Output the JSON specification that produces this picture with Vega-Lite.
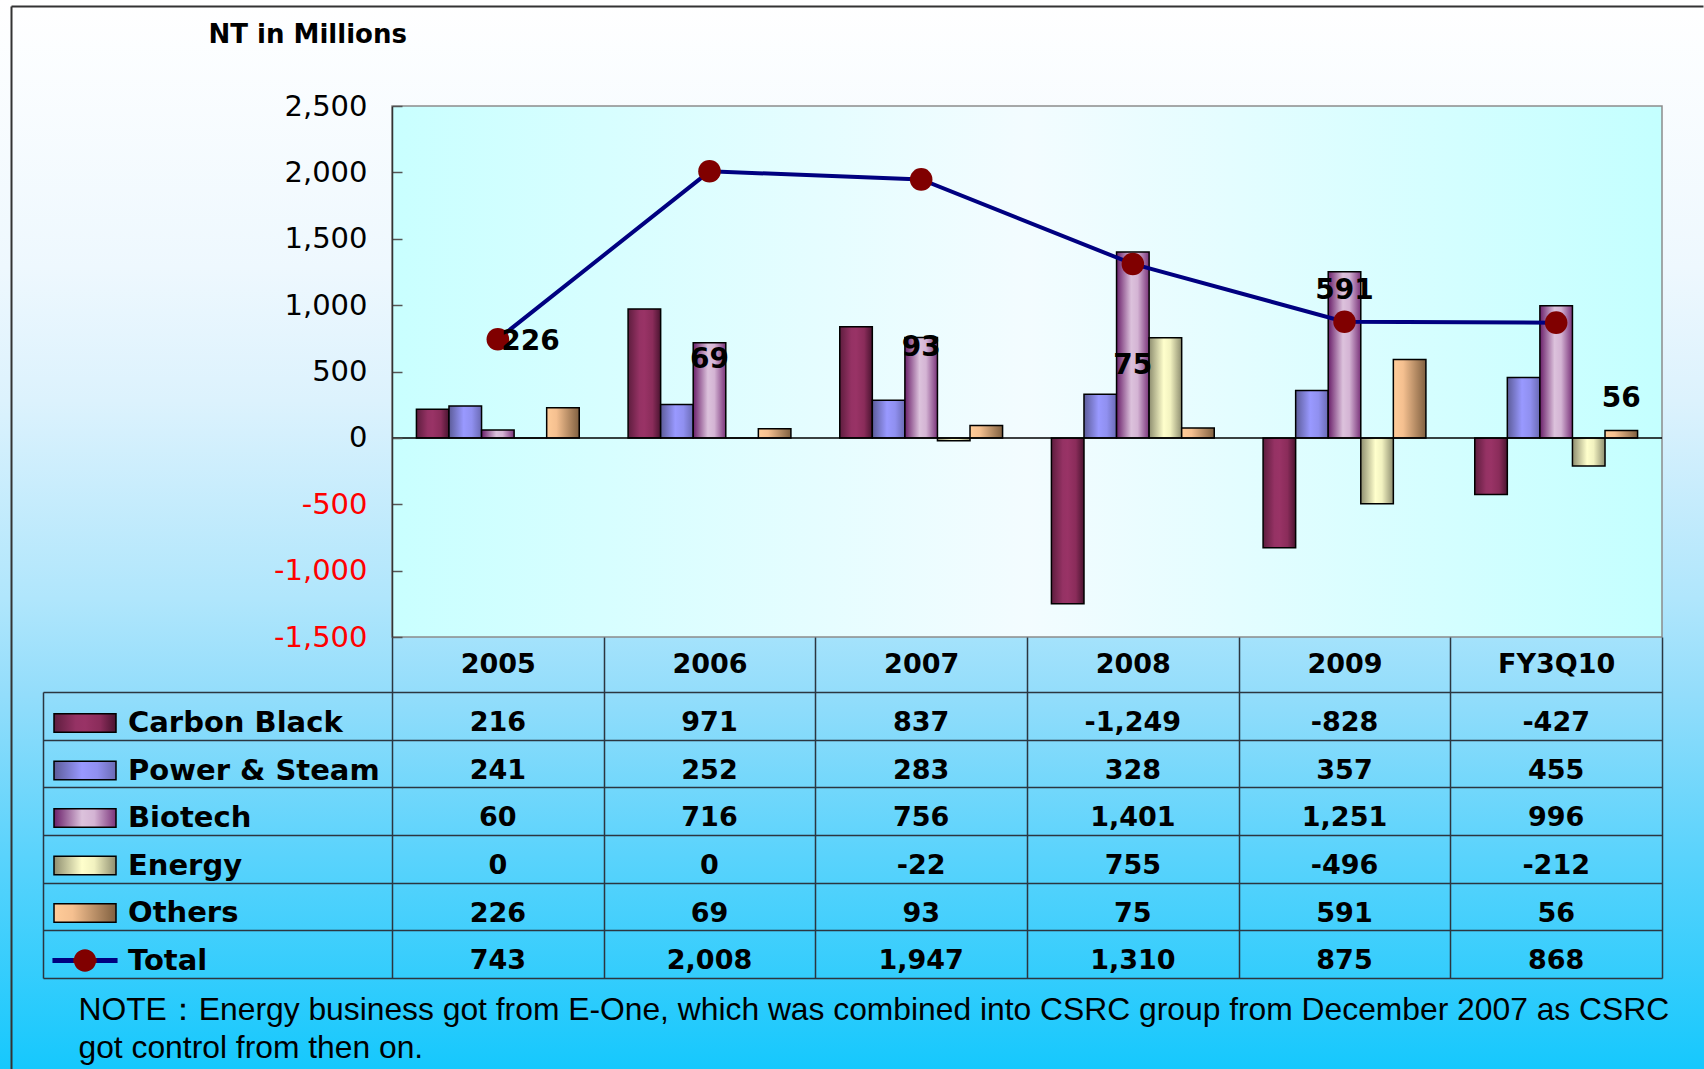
{
  "$schema": "https://vega.github.io/schema/vega-lite/v6.json",
  "width": 1704,
  "height": 1069,
  "autosize": {"type": "fit", "contains": "padding"},
  "padding": 0,
  "background": "#ffffff",
  "config": {"view": {"stroke": null}, "font": "DejaVu Sans"},
  "datasets": {
    "main": [
      {"year": "2005", "series": "Carbon Black", "value": 216},
      {"year": "2006", "series": "Carbon Black", "value": 971},
      {"year": "2007", "series": "Carbon Black", "value": 837},
      {"year": "2008", "series": "Carbon Black", "value": -1249},
      {"year": "2009", "series": "Carbon Black", "value": -828},
      {"year": "FY3Q10", "series": "Carbon Black", "value": -427},
      {"year": "2005", "series": "Power & Steam", "value": 241},
      {"year": "2006", "series": "Power & Steam", "value": 252},
      {"year": "2007", "series": "Power & Steam", "value": 283},
      {"year": "2008", "series": "Power & Steam", "value": 328},
      {"year": "2009", "series": "Power & Steam", "value": 357},
      {"year": "FY3Q10", "series": "Power & Steam", "value": 455},
      {"year": "2005", "series": "Biotech", "value": 60},
      {"year": "2006", "series": "Biotech", "value": 716},
      {"year": "2007", "series": "Biotech", "value": 756},
      {"year": "2008", "series": "Biotech", "value": 1401},
      {"year": "2009", "series": "Biotech", "value": 1251},
      {"year": "FY3Q10", "series": "Biotech", "value": 996},
      {"year": "2005", "series": "Energy", "value": 0},
      {"year": "2006", "series": "Energy", "value": 0},
      {"year": "2007", "series": "Energy", "value": -22},
      {"year": "2008", "series": "Energy", "value": 755},
      {"year": "2009", "series": "Energy", "value": -496},
      {"year": "FY3Q10", "series": "Energy", "value": -212},
      {"year": "2005", "series": "Others", "value": 226},
      {"year": "2006", "series": "Others", "value": 69},
      {"year": "2007", "series": "Others", "value": 93},
      {"year": "2008", "series": "Others", "value": 75},
      {"year": "2009", "series": "Others", "value": 591},
      {"year": "FY3Q10", "series": "Others", "value": 56},
      {"year": "2005", "series": "Total", "value": 743},
      {"year": "2006", "series": "Total", "value": 2008},
      {"year": "2007", "series": "Total", "value": 1947},
      {"year": "2008", "series": "Total", "value": 1310},
      {"year": "2009", "series": "Total", "value": 875},
      {"year": "FY3Q10", "series": "Total", "value": 868}
    ],
    "notes": [
      {"year": "2005", "series": "Energy", "value": 226, "at": 720},
      {"year": "2006", "series": "Biotech", "value": 69, "at": 590},
      {"year": "2007", "series": "Biotech", "value": 93, "at": 675},
      {"year": "2008", "series": "Biotech", "value": 75, "at": 540},
      {"year": "2009", "series": "Biotech", "value": 591, "at": 1105},
      {"year": "FY3Q10", "series": "Others", "value": 56, "at": 295}
    ],
    "keys": [
      {"value": "Carbon Black"},
      {"value": "Power & Steam"},
      {"value": "Biotech"},
      {"value": "Energy"},
      {"value": "Others"},
      {"value": "Total"}
    ]
  },
  "layer": [
    {
      "data": {"name": "keys"},
      "mark": {
        "type": "point", "filled": true, "size": 3844, "strokeWidth": 1.5, "opacity": 1,
        "fill": {"expr": "datum.value === 'Carbon Black' ? {gradient:'linear',x1:0,y1:0,x2:1,y2:0,stops:[{offset:0,color:'#5e1d3e'},{offset:0.35,color:'#953264'},{offset:0.5,color:'#993366'},{offset:0.75,color:'#8a2c5a'},{offset:1,color:'#4a1430'}]} : datum.value === 'Power & Steam' ? {gradient:'linear',x1:0,y1:0,x2:1,y2:0,stops:[{offset:0,color:'#5c5c99'},{offset:0.45,color:'#9999ff'},{offset:0.7,color:'#9090f0'},{offset:1,color:'#6a6ab4'}]} : datum.value === 'Biotech' ? {gradient:'linear',x1:0,y1:0,x2:1,y2:0,stops:[{offset:0,color:'#6a1f6a'},{offset:0.45,color:'#dcc2dc'},{offset:0.65,color:'#d4b4d4'},{offset:1,color:'#7a337a'}]} : datum.value === 'Energy' ? {gradient:'linear',x1:0,y1:0,x2:1,y2:0,stops:[{offset:0,color:'#8e8e70'},{offset:0.45,color:'#ffffcc'},{offset:0.65,color:'#f2f2c0'},{offset:1,color:'#8e8e70'}]} : datum.value === 'Others' ? {gradient:'linear',x1:0,y1:0,x2:1,y2:0,stops:[{offset:0,color:'#ffcc99'},{offset:0.3,color:'#f5c090'},{offset:1,color:'#806040'}]} : {gradient:'linear',x1:0,y1:0,x2:1,y2:0,stops:[{offset:0,color:'#000080'},{offset:0.32,color:'#000080'},{offset:0.325,color:'#800000'},{offset:0.675,color:'#800000'},{offset:0.68,color:'#000080'},{offset:1,color:'#000080'}]}"},
        "stroke": {"expr": "datum.value === 'Total' ? 'transparent' : '#000000'"}
      },
      "encoding": {
        "y": {
          "datum": 0.5, "type": "quantitative",
          "scale": {"domain": [0, 1], "range": [1069, 6], "nice": false, "zero": false},
          "axis": {
            "orient": "left", "offset": -11, "zindex": 1,
            "values": [1], "labels": false, "title": null, "grid": false,
            "ticks": true, "tickSize": -1692, "tickColor": "#333333", "tickWidth": 2,
            "domain": true, "domainColor": "#333333", "domainWidth": 2
          }
        },
        "shape": {
          "field": "value", "type": "nominal",
          "scale": {
            "domain": ["Carbon Black", "Power & Steam", "Biotech", "Energy", "Others", "Total"],
            "range": ["M-1,-0.3H1V0.3H-1Z", "M-1,-0.3H1V0.3H-1Z", "M-1,-0.3H1V0.3H-1Z", "M-1,-0.3H1V0.3H-1Z", "M-1,-0.3H1V0.3H-1Z", "M-1.05,-0.08H1.05V0.08H-1.05Z M0.36,0A0.36,0.36,0,1,1,-0.36,0A0.36,0.36,0,1,1,0.36,0Z"]
          },
          "legend": {
            "orient": "none", "legendX": 53, "legendY": 691, "zindex": 1,
            "title": null, "direction": "vertical", "padding": 0, "rowPadding": 0.5,
            "symbolSize": 3844, "symbolOpacity": 1, "symbolStrokeWidth": 1.5,
            "labelFont": "DejaVu Sans", "labelFontWeight": "bold", "labelFontSize": 29, "labelColor": "#000000",
            "labelOffset": 11, "labelLimit": 500
          }
        }
      }
    },
    {
      "data": {"values": [{}]},
      "mark": {
        "type": "rect",
        "fill": {
          "gradient": "linear", "x1": 0, "y1": 0, "x2": 0, "y2": 1,
          "stops": [
            {"offset": 0, "color": "#ffffff"},
            {"offset": 0.25, "color": "#eef8fe"},
            {"offset": 0.375, "color": "#dcf2fd"},
            {"offset": 0.56, "color": "#b0e6fc"},
            {"offset": 0.65, "color": "#93ddfb"},
            {"offset": 0.8, "color": "#5ad3fc"},
            {"offset": 1, "color": "#16c8fd"}
          ]
        }
      },
      "encoding": {}
    },
    {
      "data": {"name": "main"},
      "layer": [
        {
          "data": {"values": [{}]},
          "mark": {
            "type": "rect",
            "stroke": "#8c8c8c",
            "strokeWidth": 1.5,
            "fill": {
              "gradient": "linear", "x1": 0, "y1": 0, "x2": 1, "y2": 0,
              "stops": [
                {"offset": 0, "color": "#c9ffff"},
                {"offset": 0.5, "color": "#f3fcff"},
                {"offset": 1, "color": "#c4ffff"}
              ]
            }
          },
          "encoding": {
            "x": {"datum": "2005", "bandPosition": 0},
            "x2": {"datum": "FY3Q10", "bandPosition": 1},
            "y": {"datum": 2500},
            "y2": {"datum": -1500}
          }
        },
        {
          "transform": [{"filter": "datum.series !== 'Total'"}],
          "mark": {
            "type": "bar", "stroke": "#000000", "strokeWidth": 1.5,
            "fill": {"expr": "datum.series === 'Carbon Black' ? {gradient:'linear',x1:0,y1:0,x2:1,y2:0,stops:[{offset:0,color:'#5e1d3e'},{offset:0.35,color:'#953264'},{offset:0.5,color:'#993366'},{offset:0.75,color:'#8a2c5a'},{offset:1,color:'#4a1430'}]} : datum.series === 'Power & Steam' ? {gradient:'linear',x1:0,y1:0,x2:1,y2:0,stops:[{offset:0,color:'#5c5c99'},{offset:0.45,color:'#9999ff'},{offset:0.7,color:'#9090f0'},{offset:1,color:'#6a6ab4'}]} : datum.series === 'Biotech' ? {gradient:'linear',x1:0,y1:0,x2:1,y2:0,stops:[{offset:0,color:'#6a1f6a'},{offset:0.45,color:'#dcc2dc'},{offset:0.65,color:'#d4b4d4'},{offset:1,color:'#7a337a'}]} : datum.series === 'Energy' ? {gradient:'linear',x1:0,y1:0,x2:1,y2:0,stops:[{offset:0,color:'#8e8e70'},{offset:0.45,color:'#ffffcc'},{offset:0.65,color:'#f2f2c0'},{offset:1,color:'#8e8e70'}]} : {gradient:'linear',x1:0,y1:0,x2:1,y2:0,stops:[{offset:0,color:'#ffcc99'},{offset:0.3,color:'#f5c090'},{offset:1,color:'#806040'}]}"}
          },
          "encoding": {
            "x": {
              "field": "year", "type": "nominal", "sort": null,
              "scale": {"type": "band", "domain": ["2005", "2006", "2007", "2008", "2009", "FY3Q10"], "range": [392, 1662], "paddingInner": 0, "paddingOuter": 0},
              "axis": {
                "orient": "bottom", "offset": -432, "zindex": 1,
                "domain": false, "grid": false,
                "ticks": true, "tickBand": "extent", "tickSize": 341, "tickColor": "#2b3640", "tickWidth": 1.5,
                "labelPadding": -313.5, "labelBaseline": "middle", "labelAlign": "center", "labelAngle": 0,
                "labelFont": "DejaVu Sans", "labelFontWeight": "bold", "labelFontSize": 27, "labelColor": "#000000",
                "title": ["NOTE：Energy business got from E-One, which was combined into CSRC group from December 2007 as CSRC", "got control from then on."],
                "titleX": 78, "titleY": 382, "titleAlign": "left", "titleBaseline": "alphabetic", "titleAngle": 0,
                "titleFont": "Liberation Sans", "titleFontWeight": "normal", "titleFontSize": 31.8, "titleLineHeight": 38, "titleColor": "#000000"
              }
            },
            "xOffset": {
              "field": "series",
              "scale": {"domain": ["Carbon Black", "Power & Steam", "Biotech", "Energy", "Others"], "paddingInner": 0, "paddingOuter": 0.75}
            },
            "y": {
              "field": "value", "type": "quantitative",
              "scale": {"domain": [-1500, 2500], "range": [637, 106], "nice": false, "zero": false},
              "axis": {
                "orient": "left", "offset": -392, "zindex": 1,
                "values": [-1500, -1000, -500, 0, 500, 1000, 1500, 2000, 2500],
                "format": ",d", "labelExpr": "replace(datum.label, '\u2212', '-')", "grid": false,
                "ticks": true, "tickSize": -10, "tickColor": "#555555", "tickWidth": 1.5,
                "labelPadding": 35, "labelFont": "DejaVu Sans", "labelFontSize": 29,
                "labelColor": {"condition": {"test": "datum.value < 0", "value": "#ff0000"}, "value": "#000000"},
                "domain": true, "domainColor": "#333333", "domainWidth": 1.5,
                "title": "NT in  Millions", "titleAngle": 0, "titleX": -184, "titleY": 34,
                "titleAlign": "left", "titleBaseline": "middle",
                "titleFont": "DejaVu Sans", "titleFontWeight": "bold", "titleFontSize": 26, "titleColor": "#000000"
              }
            }
          }
        },
        {
          "data": {"values": [{}]},
          "mark": {"type": "rule", "color": "#000000", "strokeWidth": 1.5},
          "encoding": {
            "x": {"datum": "2005", "bandPosition": 0},
            "x2": {"datum": "FY3Q10", "bandPosition": 1},
            "y": {"datum": 0}
          }
        },
        {
          "transform": [{"filter": "datum.series === 'Total'"}],
          "mark": {"type": "line", "color": "#000080", "strokeWidth": 4},
          "encoding": {
            "x": {"field": "year", "type": "nominal"},
            "y": {"field": "value", "type": "quantitative"}
          }
        },
        {
          "transform": [{"filter": "datum.series === 'Total'"}],
          "mark": {"type": "circle", "size": 510, "color": "#800000", "opacity": 1},
          "encoding": {
            "x": {"field": "year", "type": "nominal"},
            "y": {"field": "value", "type": "quantitative"}
          }
        },
        {
          "data": {"name": "notes"},
          "mark": {"type": "text", "font": "DejaVu Sans", "fontWeight": "bold", "fontSize": 28, "color": "#000000", "baseline": "middle", "align": "center"},
          "encoding": {
            "x": {"field": "year", "type": "nominal"},
            "xOffset": {"field": "series"},
            "y": {"field": "at", "type": "quantitative"},
            "text": {"field": "value", "type": "quantitative", "format": ","}
          }
        }
      ]
    },
    {
      "data": {"name": "main"},
      "mark": {
        "type": "text", "font": "DejaVu Sans", "fontWeight": "bold", "fontSize": 27, "color": "#000000", "baseline": "middle", "dy": 7,
        "text": {"expr": "replace(format(datum.value, ','), '\u2212', '-')"}
      },
      "encoding": {
        "x": {"field": "year", "type": "nominal"},
        "y": {
          "field": "series", "type": "nominal",
          "scale": {"type": "band", "domain": ["Carbon Black", "Power & Steam", "Biotech", "Energy", "Others", "Total"], "range": [692, 978], "paddingInner": 0, "paddingOuter": 0},
          "axis": {
            "orient": "left", "offset": -43, "zindex": 1,
            "labels": false, "title": null, "grid": false,
            "ticks": true, "tickBand": "extent", "tickSize": -1619, "tickColor": "#2b3640", "tickWidth": 1.5,
            "domain": true, "domainColor": "#2b3640", "domainWidth": 1.5
          }
        }
      }
    }
  ],
  "resolve": {"scale": {"y": "independent"}, "axis": {"y": "independent"}}
}
